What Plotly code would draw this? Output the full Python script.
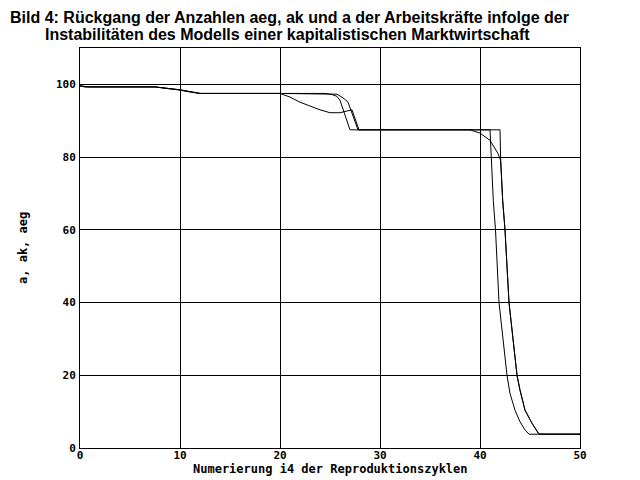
import plotly.graph_objects as go

# Series: aeg (line with dip), ak (first drop), a (second drop)
x_aeg = [0, 0.5, 1, 7.5, 9, 10, 11, 12, 20, 21, 22, 23, 24, 25, 26, 27.2, 27.9,
         39, 40, 41, 41.8, 42.07, 42.27, 42.5, 42.77, 42.9, 43.3, 43.7, 44, 44.5, 45.2, 45.9, 50]
y_aeg = [99.6, 99.4, 99.3, 99.3, 98.9, 98.5, 98.0, 97.5, 97.5, 96.5, 95.1, 94.0, 93.0, 92.2, 92.2, 93.0, 87.5,
         87.5, 86.6, 84.6, 81.0, 79.0, 68, 60, 43.4, 40, 30, 20, 15.9, 10.4, 6.8, 3.8, 3.8]

x_ak = [0, 0.5, 7.5, 9, 10, 11, 12, 20, 24.5, 25.2, 25.7, 26, 27,
        41, 41.15, 41.33, 41.55, 41.83, 41.9, 42.3, 42.7, 43, 43.5, 44, 44.5, 44.9, 50]
y_ak = [99.6, 99.3, 99.3, 98.8, 98.4, 97.9, 97.5, 97.5, 97.5, 97.2, 96.7, 95.6, 87.5,
        87.5, 79, 68, 60, 43.4, 40, 30, 20, 15, 10.4, 7.2, 5.0, 3.8, 3.8]

x_a = [0, 0.5, 7.5, 9, 10, 11, 12, 20, 25.2, 25.7, 26.3, 26.8, 27.8,
       42, 42.07, 42.27, 42.5, 42.77, 42.9, 43.3, 43.7, 44, 44.5, 45.2, 45.9, 50]
y_a = [99.6, 99.3, 99.3, 98.9, 98.5, 98.0, 97.5, 97.5, 97.5, 97.3, 96.3, 95.1, 87.5,
       87.5, 79, 68, 60, 43.4, 40, 30, 20, 15.9, 10.4, 6.8, 3.8, 3.8]

x_ticks = [0, 10, 20, 30, 40, 50]
y_ticks = [0, 20, 40, 60, 80, 100]

title_1 = "Bild 4: Rückgang der Anzahlen aeg, ak und a der Arbeitskräfte infolge der"
title_2 = "Instabilitäten des Modells einer kapitalistischen Marktwirtschaft"
x_title = "Numerierung i4 der Reproduktionszyklen"
y_title = "a, ak, aeg"

fig = go.Figure()
for xs, ys, name in [(x_aeg, y_aeg, "aeg"), (x_ak, y_ak, "ak"), (x_a, y_a, "a")]:
    fig.add_trace(go.Scatter(x=xs, y=ys, mode="lines", name=name,
                             line=dict(color="black", width=1)))

mono = dict(family="DejaVu Sans Mono", size=11, color="black", weight="bold")
mono_t = dict(family="DejaVu Sans Mono", size=12, color="black", weight="bold")

fig.update_layout(
    width=640, height=480,
    margin=dict(l=72, r=68, t=40, b=40),
    paper_bgcolor="white", plot_bgcolor="white",
    showlegend=False,
    xaxis=dict(range=[0, 50], tickvals=x_ticks, showgrid=True, gridcolor="black", gridwidth=1,
               showline=True, linecolor="black", linewidth=1, mirror=True, zeroline=False,
               ticks="", tickfont=mono, ticklabelstandoff=-3),
    yaxis=dict(range=[0, 110], tickvals=y_ticks, showgrid=True, gridcolor="black", gridwidth=1,
               showline=True, linecolor="black", linewidth=1, mirror=True, zeroline=False,
               ticks="", tickfont=mono, ticklabelstandoff=1),
    annotations=[
        dict(text="<b>" + title_1 + "</b>", xref="paper", yref="paper", x=-0.144, y=1.0775,
             xanchor="left", yanchor="middle", showarrow=False,
             font=dict(family="Liberation Sans", size=16, color="black")),
        dict(text="<b>" + title_2 + "</b>", xref="paper", yref="paper", x=-0.074, y=1.035,
             xanchor="left", yanchor="middle", showarrow=False,
             font=dict(family="Liberation Sans", size=16, color="black")),
        dict(text=x_title, xref="paper", yref="paper", x=0.5, y=-0.0525,
             xanchor="center", yanchor="middle", showarrow=False, font=mono_t),
        dict(text=y_title, xref="paper", yref="paper", x=-0.114, y=0.5, textangle=-90,
             xanchor="center", yanchor="middle", showarrow=False, font=mono_t),
    ],
)

fig.write_html("out.html")
